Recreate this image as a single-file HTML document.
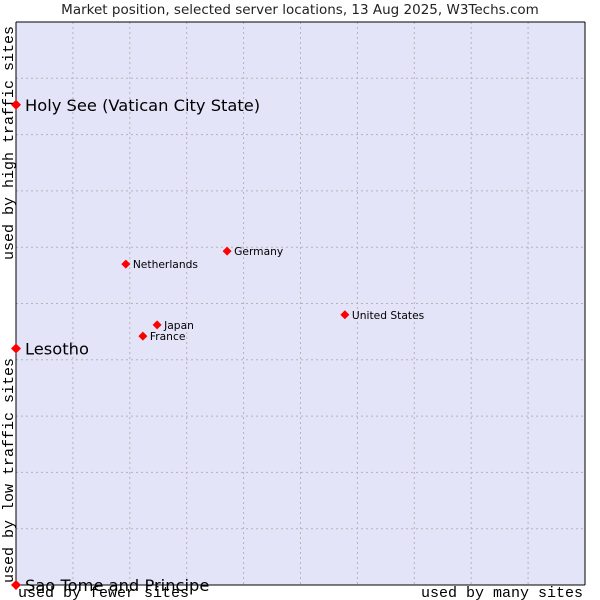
<!DOCTYPE html>
<html><head><meta charset="utf-8"><style>
body{margin:0;background:#fff;}
svg{display:block;}
</style></head><body>
<svg id="chart" width="600" height="600" xmlns="http://www.w3.org/2000/svg">
<text x="300" y="14" text-anchor="middle" font-family="DejaVu Sans, sans-serif" font-size="13.5" fill="#222">Market position, selected server locations, 13 Aug 2025, W3Techs.com</text>
<rect x="16" y="22" width="569" height="563" fill="#e3e4f8"/>
<g id="grid"></g>
<line x1="16" y1="22" x2="16" y2="585" stroke="#000"/>
<line x1="16" y1="585" x2="585" y2="585" stroke="#000"/>
<line x1="16" y1="22" x2="585" y2="22" stroke="#000"/>
<line x1="585" y1="22" x2="585" y2="585" stroke="#000"/>
<g id="points"></g>
<text x="18" y="597" font-family="Liberation Mono, monospace" font-size="15" fill="#000">used by fewer sites</text>
<text x="583" y="597" text-anchor="end" font-family="Liberation Mono, monospace" font-size="15" fill="#000">used by many sites</text>
<text transform="translate(13,583) rotate(-90)" font-family="Liberation Mono, monospace" font-size="15" fill="#000">used by low traffic sites</text>
<text transform="translate(13,260) rotate(-90)" font-family="Liberation Mono, monospace" font-size="15" fill="#000">used by high traffic sites</text>
</svg>
<script>
const names = ["Holy See (Vatican City State)","Lesotho","Sao Tome and Principe","Netherlands","Germany","Japan","France","United States"];
const xValues = [0,0,0,19.3,37.1,24.8,22.3,57.8];
const yValues = [85.3,42.0,0,57.0,59.3,46.2,44.2,48.0];
const bigLabel = [true,true,true,false,false,false,false,false];
const NS="http://www.w3.org/2000/svg";
const L=16,R=585,T=22,B=585;
function sx(v){return L+(R-L)*v/100;}
function sy(v){return B-(B-T)*v/100;}
const grid=document.getElementById('grid');
for(let i=1;i<10;i++){
  const g=document.createElementNS(NS,'line');
  g.setAttribute('x1',sx(i*10));g.setAttribute('x2',sx(i*10));g.setAttribute('y1',T);g.setAttribute('y2',B);
  g.setAttribute('stroke','#b4b4b4');g.setAttribute('stroke-dasharray','2,3');
  
  
  grid.appendChild(g);
  const h=document.createElementNS(NS,'line');
  h.setAttribute('y1',sy(i*10));h.setAttribute('y2',sy(i*10));h.setAttribute('x1',L);h.setAttribute('x2',R);
  h.setAttribute('stroke','#b4b4b4');h.setAttribute('stroke-dasharray','2,3');
  
  
  grid.appendChild(h);
}
const pts=document.getElementById('points');
names.forEach((n,i)=>{
  const x=sx(xValues[i]),y=sy(yValues[i]);
  const d=document.createElementNS(NS,'polygon');
  const r=bigLabel[i]?5:4.5;
  d.setAttribute('points',`${x},${y-r} ${x+r},${y} ${x},${y+r} ${x-r},${y}`);
  d.setAttribute('fill','#f00');
  
  
  pts.appendChild(d);
  const t=document.createElementNS(NS,'text');
  t.setAttribute('x',x+(bigLabel[i]?9:7));
  t.setAttribute('y',y+(bigLabel[i]?6:4));
  t.setAttribute('font-family','DejaVu Sans, sans-serif');
  t.setAttribute('font-size',bigLabel[i]?'16.3':'10.7');
  t.setAttribute('fill','#000');
  t.textContent=n;
  
  
  pts.appendChild(t);
});
</script>
</body></html>
